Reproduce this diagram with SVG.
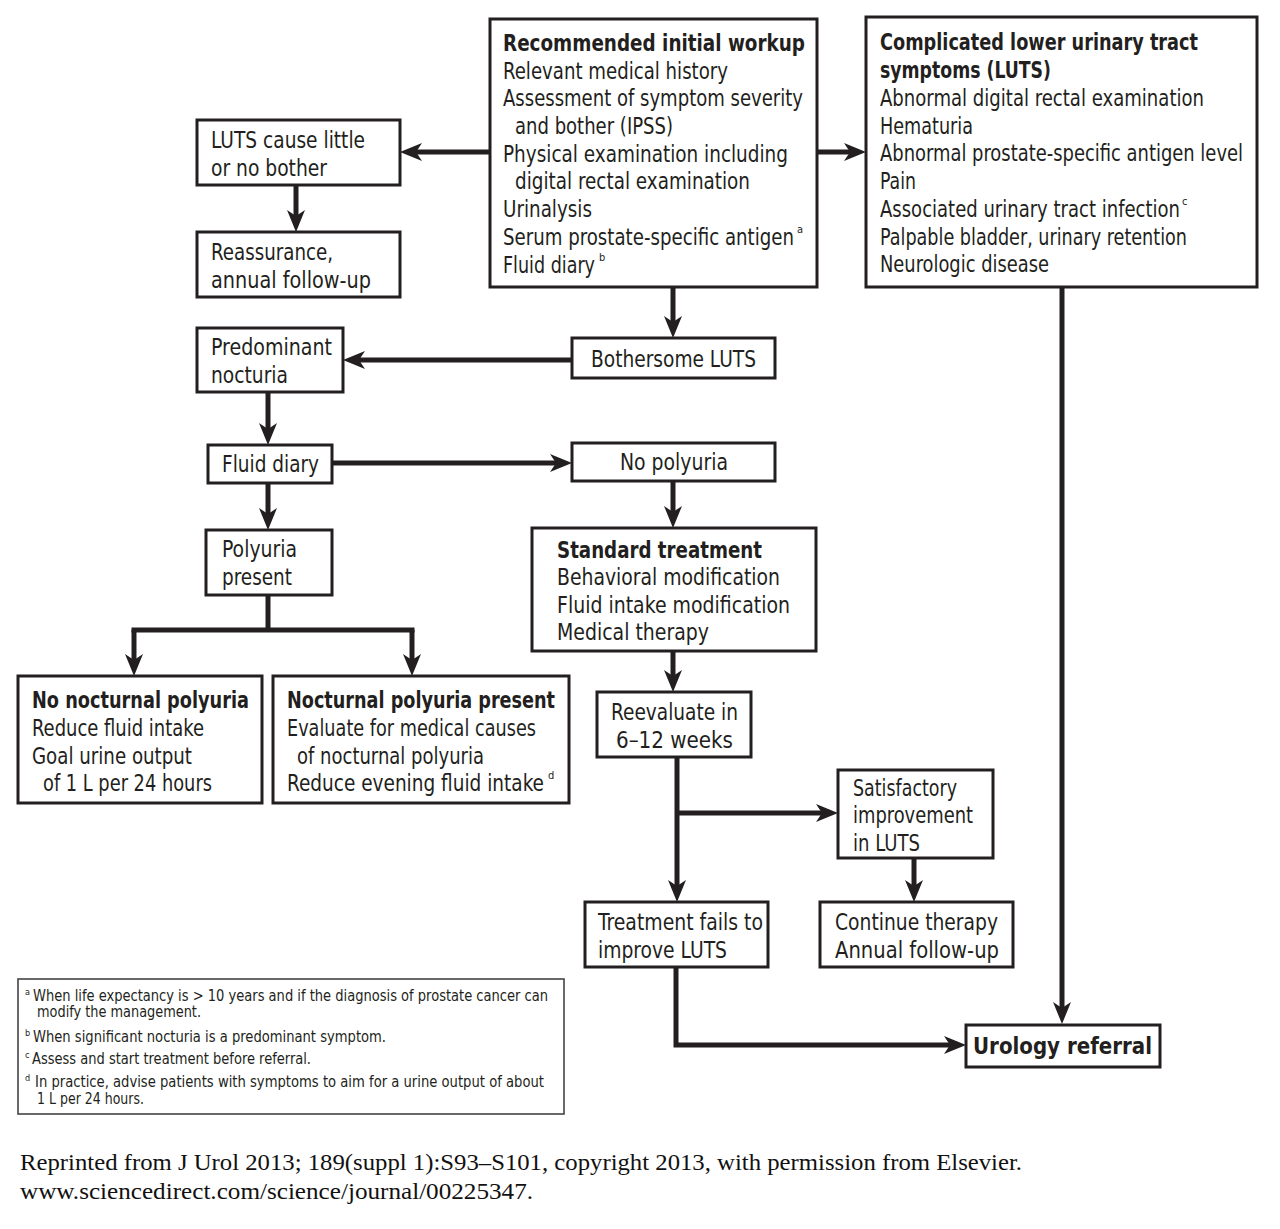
<svg xmlns="http://www.w3.org/2000/svg" width="1280" height="1229" viewBox="0 0 1280 1229">
<style>
.bx{fill:#fff;stroke:#231f20;stroke-width:3}
.fb{fill:#fff;stroke:#444;stroke-width:1.6}
.t{font-family:"Liberation Sans Narrow","DejaVu Sans Condensed","Liberation Sans",sans-serif;font-size:23px;fill:#231f20}
.b{font-weight:bold}
.s{font-family:"DejaVu Sans Condensed","Liberation Sans",sans-serif;font-size:11px;fill:#231f20}
.f{font-family:"Liberation Sans Narrow","DejaVu Sans Condensed","Liberation Sans",sans-serif;font-size:15px;fill:#231f20}
.fs{font-family:"DejaVu Sans Condensed","Liberation Sans",sans-serif;font-size:9px;fill:#231f20}
.cit{font-family:"Liberation Serif",serif;font-size:23px;fill:#111}
.cn{fill:none;stroke:#231f20;stroke-width:5}
.ar{marker-end:url(#ah)}
</style>
<defs>
<marker id="ah" viewBox="0 0 22 18" refX="8" refY="9" markerWidth="22" markerHeight="18" markerUnits="userSpaceOnUse" orient="auto">
<path d="M0,0 L22,9 L0,18 L6,9 Z" fill="#231f20"/>
</marker>
</defs>
<rect width="1280" height="1229" fill="#fff"/>

<g id="connectors">
<path class="cn ar" d="M490,152 H414"/>
<path class="cn ar" d="M817,152 H852"/>
<path class="cn ar" d="M296,185 V218"/>
<path class="cn ar" d="M673,287 V324"/>
<path class="cn ar" d="M572,360 H357"/>
<path class="cn ar" d="M268,392 V431"/>
<path class="cn ar" d="M332,463 H558"/>
<path class="cn ar" d="M268,483 V516"/>
<path class="cn" d="M268,595 V630"/>
<path class="cn ar" d="M134,630 V662"/>
<path class="cn ar" d="M412,630 V662"/>
<path class="cn" d="M131.5,630 H414.5"/>
<path class="cn ar" d="M673,481 V514"/>
<path class="cn ar" d="M673,651 V678"/>
<path class="cn ar" d="M677,757 V888"/>
<path class="cn ar" d="M677,813 H824"/>
<path class="cn ar" d="M914,858 V888"/>
<path class="cn ar" d="M676,967 V1045 H952"/>
<path class="cn ar" d="M1062,287 V1010"/>
</g>

<g id="workup">
<rect class="bx" x="490" y="19" width="327" height="268"/>
<text class="t b" x="503" y="51" textLength="302" lengthAdjust="spacingAndGlyphs">Recommended initial workup</text>
<text class="t" x="503" y="79" textLength="225" lengthAdjust="spacingAndGlyphs">Relevant medical history</text>
<text class="t" x="503" y="106" textLength="300" lengthAdjust="spacingAndGlyphs">Assessment of symptom severity</text>
<text class="t" x="515" y="134" textLength="158" lengthAdjust="spacingAndGlyphs">and bother (IPSS)</text>
<text class="t" x="503" y="162" textLength="285" lengthAdjust="spacingAndGlyphs">Physical examination including</text>
<text class="t" x="515" y="189" textLength="235" lengthAdjust="spacingAndGlyphs">digital rectal examination</text>
<text class="t" x="503" y="217" textLength="89" lengthAdjust="spacingAndGlyphs">Urinalysis</text>
<text class="t" x="503" y="245" textLength="291" lengthAdjust="spacingAndGlyphs">Serum prostate-specific antigen</text>
<text class="s" x="797" y="233">a</text>
<text class="t" x="503" y="273" textLength="92" lengthAdjust="spacingAndGlyphs">Fluid diary</text>
<text class="s" x="599" y="261">b</text>
</g>

<g id="complicated">
<rect class="bx" x="866" y="17" width="391" height="270"/>
<text class="t b" x="880" y="50" textLength="318" lengthAdjust="spacingAndGlyphs">Complicated lower urinary tract</text>
<text class="t b" x="880" y="78" textLength="171" lengthAdjust="spacingAndGlyphs">symptoms (LUTS)</text>
<text class="t" x="880" y="106" textLength="324" lengthAdjust="spacingAndGlyphs">Abnormal digital rectal examination</text>
<text class="t" x="880" y="134" textLength="93" lengthAdjust="spacingAndGlyphs">Hematuria</text>
<text class="t" x="880" y="161" textLength="363" lengthAdjust="spacingAndGlyphs">Abnormal prostate-specific antigen level</text>
<text class="t" x="880" y="189" textLength="36" lengthAdjust="spacingAndGlyphs">Pain</text>
<text class="t" x="880" y="217" textLength="300" lengthAdjust="spacingAndGlyphs">Associated urinary tract infection</text>
<text class="s" x="1182" y="205">c</text>
<text class="t" x="880" y="245" textLength="307" lengthAdjust="spacingAndGlyphs">Palpable bladder, urinary retention</text>
<text class="t" x="880" y="272" textLength="169" lengthAdjust="spacingAndGlyphs">Neurologic disease</text>
</g>

<g id="little-bother">
<rect class="bx" x="197" y="120" width="203" height="65"/>
<text class="t" x="211" y="148" textLength="154" lengthAdjust="spacingAndGlyphs">LUTS cause little</text>
<text class="t" x="211" y="176" textLength="116" lengthAdjust="spacingAndGlyphs">or no bother</text>
</g>

<g id="reassurance">
<rect class="bx" x="197" y="232" width="203" height="65"/>
<text class="t" x="211" y="260" textLength="122" lengthAdjust="spacingAndGlyphs">Reassurance,</text>
<text class="t" x="211" y="288" textLength="160" lengthAdjust="spacingAndGlyphs">annual follow-up</text>
</g>

<g id="bothersome">
<rect class="bx" x="572" y="338" width="203" height="40"/>
<text class="t" x="591" y="367" textLength="165" lengthAdjust="spacingAndGlyphs">Bothersome LUTS</text>
</g>

<g id="predominant">
<rect class="bx" x="197" y="328" width="146" height="64"/>
<text class="t" x="211" y="355" textLength="121" lengthAdjust="spacingAndGlyphs">Predominant</text>
<text class="t" x="211" y="383" textLength="77" lengthAdjust="spacingAndGlyphs">nocturia</text>
</g>

<g id="fluid-diary">
<rect class="bx" x="208" y="445" width="124" height="38"/>
<text class="t" x="222" y="472" textLength="97" lengthAdjust="spacingAndGlyphs">Fluid diary</text>
</g>

<g id="no-polyuria">
<rect class="bx" x="572" y="443" width="203" height="38"/>
<text class="t" x="620" y="470" textLength="108" lengthAdjust="spacingAndGlyphs">No polyuria</text>
</g>

<g id="polyuria-present">
<rect class="bx" x="206" y="530" width="126" height="65"/>
<text class="t" x="222" y="557" textLength="75" lengthAdjust="spacingAndGlyphs">Polyuria</text>
<text class="t" x="222" y="585" textLength="70" lengthAdjust="spacingAndGlyphs">present</text>
</g>

<g id="standard">
<rect class="bx" x="532" y="528" width="284" height="123"/>
<text class="t b" x="557" y="558" textLength="205" lengthAdjust="spacingAndGlyphs">Standard treatment</text>
<text class="t" x="557" y="585" textLength="223" lengthAdjust="spacingAndGlyphs">Behavioral modification</text>
<text class="t" x="557" y="613" textLength="233" lengthAdjust="spacingAndGlyphs">Fluid intake modification</text>
<text class="t" x="557" y="640" textLength="152" lengthAdjust="spacingAndGlyphs">Medical therapy</text>
</g>

<g id="no-nocturnal">
<rect class="bx" x="18" y="676" width="244" height="127"/>
<text class="t b" x="32" y="708" textLength="217" lengthAdjust="spacingAndGlyphs">No nocturnal polyuria</text>
<text class="t" x="32" y="736" textLength="172" lengthAdjust="spacingAndGlyphs">Reduce fluid intake</text>
<text class="t" x="32" y="764" textLength="160" lengthAdjust="spacingAndGlyphs">Goal urine output</text>
<text class="t" x="43" y="791" textLength="169" lengthAdjust="spacingAndGlyphs">of 1 L per 24 hours</text>
</g>

<g id="nocturnal-present">
<rect class="bx" x="273" y="676" width="296" height="127"/>
<text class="t b" x="287" y="708" textLength="268" lengthAdjust="spacingAndGlyphs">Nocturnal polyuria present</text>
<text class="t" x="287" y="736" textLength="249" lengthAdjust="spacingAndGlyphs">Evaluate for medical causes</text>
<text class="t" x="297" y="764" textLength="187" lengthAdjust="spacingAndGlyphs">of nocturnal polyuria</text>
<text class="t" x="287" y="791" textLength="257" lengthAdjust="spacingAndGlyphs">Reduce evening fluid intake</text>
<text class="s" x="548" y="779">d</text>
</g>

<g id="reevaluate">
<rect class="bx" x="597" y="692" width="154" height="65"/>
<text class="t" x="611" y="720" textLength="127" lengthAdjust="spacingAndGlyphs">Reevaluate in</text>
<text class="t" x="616" y="748" textLength="117" lengthAdjust="spacingAndGlyphs">6–12 weeks</text>
</g>

<g id="satisfactory">
<rect class="bx" x="838" y="770" width="155" height="88"/>
<text class="t" x="853" y="796" textLength="104" lengthAdjust="spacingAndGlyphs">Satisfactory</text>
<text class="t" x="853" y="823" textLength="120" lengthAdjust="spacingAndGlyphs">improvement</text>
<text class="t" x="853" y="851" textLength="67" lengthAdjust="spacingAndGlyphs">in LUTS</text>
</g>

<g id="fails">
<rect class="bx" x="585" y="902" width="183" height="65"/>
<text class="t" x="598" y="930" textLength="165" lengthAdjust="spacingAndGlyphs">Treatment fails to</text>
<text class="t" x="598" y="958" textLength="129" lengthAdjust="spacingAndGlyphs">improve LUTS</text>
</g>

<g id="continue">
<rect class="bx" x="820" y="902" width="193" height="65"/>
<text class="t" x="835" y="930" textLength="163" lengthAdjust="spacingAndGlyphs">Continue therapy</text>
<text class="t" x="835" y="958" textLength="164" lengthAdjust="spacingAndGlyphs">Annual follow-up</text>
</g>

<g id="urology">
<rect class="bx" x="966" y="1025" width="194" height="42"/>
<text class="t b" x="973" y="1054" textLength="179" lengthAdjust="spacingAndGlyphs">Urology referral</text>
</g>

<g id="footnotes">
<rect class="fb" x="18" y="979" width="546" height="135"/>
<text class="fs" x="25" y="995">a</text>
<text class="f" x="33" y="1001" textLength="515" lengthAdjust="spacingAndGlyphs">When life expectancy is &gt; 10 years and if the diagnosis of prostate cancer can</text>
<text class="f" x="37" y="1017" textLength="164" lengthAdjust="spacingAndGlyphs">modify the management.</text>
<text class="fs" x="25" y="1036">b</text>
<text class="f" x="33" y="1042" textLength="353" lengthAdjust="spacingAndGlyphs">When significant nocturia is a predominant symptom.</text>
<text class="fs" x="25" y="1058">c</text>
<text class="f" x="32" y="1064" textLength="279" lengthAdjust="spacingAndGlyphs">Assess and start treatment before referral.</text>
<text class="fs" x="25" y="1081">d</text>
<text class="f" x="35" y="1087" textLength="509" lengthAdjust="spacingAndGlyphs">In practice, advise patients with symptoms to aim for a urine output of about</text>
<text class="f" x="37" y="1104" textLength="107" lengthAdjust="spacingAndGlyphs">1 L per 24 hours.</text>
</g>

<g id="citation">
<text class="cit" x="20" y="1170" textLength="1002" lengthAdjust="spacingAndGlyphs">Reprinted from J Urol 2013; 189(suppl 1):S93–S101, copyright 2013, with permission from Elsevier.</text>
<text class="cit" x="20" y="1199" textLength="513" lengthAdjust="spacingAndGlyphs">www.sciencedirect.com/science/journal/00225347.</text>
</g>
</svg>
